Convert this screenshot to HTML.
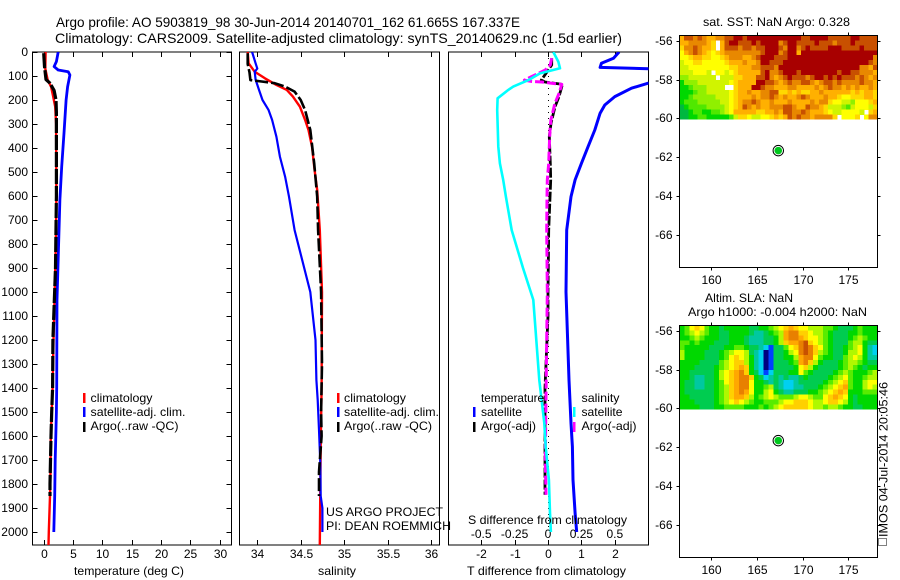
<!DOCTYPE html>
<html lang="en">
<head>
<meta charset="utf-8">
<title>Argo profile</title>
<style>
html,body{margin:0;padding:0;background:#fff;}
svg{display:block;font-family:"Liberation Sans",sans-serif;font-size:12px;fill:#000;}
text{fill:#000;}
.box{fill:none;stroke:#000;stroke-width:1;shape-rendering:crispEdges;}
.crisp{shape-rendering:crispEdges;}
</style>
</head>
<body>
<svg id="chart" xmlns="http://www.w3.org/2000/svg" width="900" height="580" viewBox="0 0 900 580">
  <rect x="0" y="0" width="900" height="580" fill="#fff"/>
  <defs>
    <clipPath id="clip-temp"><rect x="32.5" y="52" width="199" height="493"/></clipPath>
    <clipPath id="clip-sal"><rect x="239.5" y="52" width="200" height="493"/></clipPath>
    <clipPath id="clip-diff"><rect x="448.5" y="52" width="200" height="493"/></clipPath>
  </defs>
  <text x="56" y="27" font-size="14" textLength="464" lengthAdjust="spacingAndGlyphs">Argo profile: AO 5903819_98 30-Jun-2014 20140701_162 61.665S 167.337E</text>
  <text x="55" y="43" font-size="14" textLength="567" lengthAdjust="spacingAndGlyphs">Climatology: CARS2009. Satellite-adjusted climatology: synTS_20140629.nc (1.5d earlier)</text>

  <g id="panel-temp"></g>
  <g id="panel-sal"></g>
  <g id="panel-diff"></g>
  <g id="map-sst"></g>
  <g id="map-sla"></g>

  <text x="74" y="575" textLength="110" lengthAdjust="spacingAndGlyphs">temperature (deg C)</text>
  <text x="318" y="575" textLength="38" lengthAdjust="spacingAndGlyphs">salinity</text>
  <text x="467" y="575" textLength="159" lengthAdjust="spacingAndGlyphs">T difference from climatology</text>
  <text x="468" y="524" textLength="159" lengthAdjust="spacingAndGlyphs">S difference from climatology</text>

  <g>
    <rect x="83" y="393" width="2.5" height="10" fill="#ff0000"/>
    <text x="90.5" y="402" textLength="62" lengthAdjust="spacingAndGlyphs">climatology</text>
    <rect x="83" y="407" width="2.5" height="10" fill="#0000ff"/>
    <text x="90.5" y="416" textLength="95" lengthAdjust="spacingAndGlyphs">satellite-adj. clim.</text>
    <rect x="83" y="422" width="2.5" height="10" fill="#000"/>
    <text x="90.5" y="430" textLength="88" lengthAdjust="spacingAndGlyphs">Argo(..raw -QC)</text>
  </g>
  <g>
    <rect x="337" y="393" width="2.5" height="10" fill="#ff0000"/>
    <text x="344" y="402" textLength="62" lengthAdjust="spacingAndGlyphs">climatology</text>
    <rect x="337" y="407" width="2.5" height="10" fill="#0000ff"/>
    <text x="344" y="416" textLength="95" lengthAdjust="spacingAndGlyphs">satellite-adj. clim.</text>
    <rect x="337" y="422" width="2.5" height="10" fill="#000"/>
    <text x="344" y="430" textLength="88" lengthAdjust="spacingAndGlyphs">Argo(..raw -QC)</text>
  </g>
  <g>
    <text x="481" y="402" textLength="63" lengthAdjust="spacingAndGlyphs">temperature</text>
    <rect x="473" y="407" width="2.5" height="10" fill="#0000ff"/>
    <text x="481" y="416" textLength="41" lengthAdjust="spacingAndGlyphs">satellite</text>
    <rect x="473" y="422" width="2.5" height="10" fill="#000"/>
    <text x="481" y="430" textLength="55" lengthAdjust="spacingAndGlyphs">Argo(-adj)</text>
  </g>
  <g>
    <text x="581.5" y="402" textLength="38" lengthAdjust="spacingAndGlyphs">salinity</text>
    <rect x="573" y="407" width="2.5" height="10" fill="#00ffff"/>
    <text x="581.5" y="416" textLength="41" lengthAdjust="spacingAndGlyphs">satellite</text>
    <rect x="573" y="422" width="2.5" height="10" fill="#ff00ff"/>
    <text x="581.5" y="430" textLength="55" lengthAdjust="spacingAndGlyphs">Argo(-adj)</text>
  </g>

  <text x="326" y="516" textLength="117" lengthAdjust="spacingAndGlyphs">US ARGO PROJECT</text>
  <text x="326" y="530" textLength="125" lengthAdjust="spacingAndGlyphs">PI: DEAN ROEMMICH</text>

  <text x="703" y="26" textLength="147" lengthAdjust="spacingAndGlyphs">sat. SST: NaN Argo: 0.328</text>
  <text x="705" y="302" textLength="88" lengthAdjust="spacingAndGlyphs">Altim. SLA: NaN</text>
  <text x="688" y="316" textLength="179" lengthAdjust="spacingAndGlyphs">Argo h1000: -0.004 h2000: NaN</text>

  <rect x="878.5" y="538.5" width="8" height="7" fill="none" stroke="#000" stroke-width="1" stroke-dasharray="1 1" class="crisp"/>
  <text transform="translate(887.5,537) rotate(-90)" textLength="155" lengthAdjust="spacingAndGlyphs">IMOS 04-Jul-2014 20:05:46</text>
</svg>
<script>
/* ---------- depth ticks ---------- */
const depthTicks = [0,100,200,300,400,500,600,700,800,900,1000,1100,1200,1300,1400,1500,1600,1700,1800,1900,2000];

/* ---------- temperature panel ---------- */
const tempTicks = [0,5,10,15,20,25,30];
const tempClimDepth = [0,70,115,145,180,228,300,600,800,1000,1200,1400,1500,1600,1750,1850,2000,2054];
const tempClimValues = [0.35,0.3,0.7,1.3,1.6,2.0,2.15,2.2,2.1,1.9,1.7,1.55,1.4,1.25,1.2,1.1,0.9,0.85];
const tempSatDepth = [0,40,61,75,82,96,145,200,338,478,616,1033,1400,1500,1700,1850,2000];
const tempSatValues = [2.5,2.2,1.8,2.5,4.2,4.5,4.1,3.85,3.5,3.1,2.8,2.3,2.25,2.2,2.0,1.9,1.75];
const tempArgoDepth = [5,60,115,130,160,200,250,600,900,1200,1400,1500,1600,1700,1800,1850];
const tempArgoValues = [0.03,0.17,0.43,1.1,1.8,2.13,2.2,2.2,2.05,1.6,1.55,1.4,1.27,1.2,1.1,1.1];

/* ---------- salinity panel ---------- */
const salTicks = [34,34.5,35,35.5,36];
const salClimDepth = [0,47,82,110,137,158,186,228,283,325,394,492,575,742,1000,1400,1645,2054];
const salClimValues = [33.89,33.90,33.97,34.09,34.22,34.34,34.41,34.49,34.55,34.59,34.63,34.66,34.69,34.72,34.745,34.74,34.73,34.72];
const salSatDepth = [0,47,69,82,115,158,200,242,283,353,436,519,603,742,1000,1200,1367,1450,1575,1713,1850,1900,2000];
const salSatValues = [33.94,33.98,34.0,33.97,33.98,34.02,34.06,34.13,34.17,34.22,34.26,34.32,34.365,34.43,34.61,34.67,34.68,34.695,34.71,34.725,34.73,34.75,34.75];
const salArgoDepth = [5,50,85,117,123,130,144,165,200,242,325,464,603,742,1000,1300,1500,1600,1750,1850];
const salArgoValues = [33.89,33.89,33.91,33.92,34.05,34.2,34.32,34.43,34.5,34.55,34.61,34.655,34.69,34.70,34.735,34.745,34.735,34.74,34.71,34.71];

/* ---------- difference panel ---------- */
const diffTTicks = [-2,-1,0,1,2];
const diffSTicks = [-0.5,-0.25,0,0.25,0.5];
const diffSTickLabels = ["-0.5","-0.25","0","0.25","0.5"];
const diffTSatDepth = [0,26,47,64,72,85,120,130,151,186,221,255,325,394,464,533,603,742,1000,1367,1546,1645,1783,1921,2000];
const diffTSatValues = [2.13,1.96,1.6,1.56,3.6,8,8,3.0,2.5,2.0,1.7,1.56,1.4,1.2,1.0,0.81,0.69,0.56,0.54,0.63,0.69,0.73,0.75,0.81,0.86];
const diffSSatDepth = [0,40,68,89,117,144,158,193,242,394,464,533,603,742,900,1033,1367,1546,1645,1783,1921,2000];
const diffSSatValues = [0.04,0.077,0.09,-0.06,-0.147,-0.26,-0.297,-0.377,-0.38,-0.372,-0.36,-0.335,-0.315,-0.272,-0.187,-0.11,-0.065,-0.028,-0.017,0.007,0.015,0.022];
const diffTArgoDepth = [26,54,75,117,125,135,186,228,297,353,464,533,742,1000,1100,1400,1600,1845];
const diffTArgoValues = [0.11,0.11,0.01,-0.2,-0.09,0.43,0.33,0.21,0.09,0.04,0.07,0.08,0.02,0,0,-0.09,-0.09,-0.09];
const diffSArgoDepth = [26,54,75,89,117,123,125,130,135,173,214,283,325,394,464,533,603,742,1000,1435,1700,1845];
const diffSArgoValues = [0.028,0.017,-0.02,-0.072,-0.177,-0.12,-0.047,0.028,0.103,0.082,0.052,0.022,0.015,0.01,0.005,-0.005,-0.0075,-0.01,-0.005,-0.015,-0.02,-0.015];

/* ---------- maps ---------- */
const lonTicks = [160,165,170,175];
const latTicks = [-56,-58,-60,-62,-64,-66];
const argoLon = 167.337;
const argoLat = -61.665;
const sstRows = [
"7998987788"+"99aa9aaaaa"+"aa"+"aaaaa99aaa"+"a99999aa99"+"99",
"77888876.7"+"9aa999a9aa"+"aa"+"89aa9999a9"+"998999a999"+"99",
"68898776.7"+"999899899a"+"aa"+"98aa89a999"+"9aaa9999a9"+"99",
"5789876567"+"888888889a"+"aa"+"89aa7aaaaa"+"aaaaaaaaaa"+"aa",
"5567766556"+"78887789aa"+"a9"+"99aaaaaaaa"+"aaaaaaaaaa"+"a8",
"4556655555"+"67778778aa"+"99"+"9aaaaaaaaa"+"aaaaaaaaaa"+"98",
"4455555555"+"5667778899"+"98"+"aaaaaaaaaa"+"aaaaaaaa88"+"79",
"4445554.55"+"456777779a"+"88"+"9aaa9aaaaa"+"aaa9aa9988"+"87",
"33444444.4"+"446677799a"+"87"+"89a99989aa"+"9a9a999898"+"78",
"1333444444"+"4567777aa9"+"98"+"7898899878"+"9989888898"+"87",
"1123334444"+"..6777aa98"+"87"+"7788777787"+"8988787877"+"87",
"1112334444"+"4567787788"+"99"+"6676766778"+"7777776767"+"76",
"1123333344"+"4567778788"+"98"+"7877898777"+"8776556667"+"76",
"1222333334"+"4567889877"+"87"+"7787777878"+"8655443555"+"67",
"0122223333"+"4567987877"+"88"+"8998779887"+"6444324555"+"46",
"0012211223"+"4577777667"+"78"+"7998898777"+"654455554."+"67",
"0011221111"+"1246654455"+"67"+"6798988788"+"886.5556.5"+"88"
];
const slaRows = [
"5689865545"+"5555445567"+"89a9887776"+"6544456555",
"5678765544"+"5555433456"+"7abb998776"+"5444556555",
"5567655544"+"5554333445"+"7abba98876"+"5444567655",
"6656555444"+"5554333445"+"79aabc9876"+"5444677544",
"6555554445"+"5665443214"+"4689bcb986"+"5445678532",
"7555544456"+"7887432014"+"4578bcb976"+"5445778532",
"7555544456"+"8987532014"+"4557abb865"+"5446787533",
"5555444467"+"8997532014"+"4456ab9754"+"4456776544",
"5554444567"+"89a9532014"+"4445897544"+"4456765455",
"5544444578"+"9ab9542124"+"4455865444"+"4567655567",
"5543344578"+"9abb954234"+"3433454444"+"5678655677",
"5443344568"+"9abb855434"+"3223444445"+"6789655788",
"5443344567"+"9abb855674"+"3223344456"+"789a655787",
"5444444567"+"9aba855785"+"4334445567"+"89a9555666",
"5544444567"+"9aa9756787"+"6667887668"+"9a98545555",
"5554444567"+"8987655666"+"7889998778"+"9987545555",
"5555444556"+"6665556567"+"8999998776"+"7765544555"
];
const sstColors = ["#00b840","#00d800","#50e800","#90f000","#d0f400","#ffff00","#ffd800","#ffb000","#e88800","#c85000","#a80000"];
const slaColors = ["#000080","#0040ff","#00d0f0","#00c8a0","#00cc50","#00d800","#58ec00","#b0f800","#ffff00","#ffd000","#ffa800","#e88000","#c85000"];

/* ---------- axis functions ---------- */
const NS = "http://www.w3.org/2000/svg";
const yDepth = d => 52 + 0.24 * d;
const xTemp = t => 43.5 + 5.87 * t;
const xSal = s => 257.3 + 86.85 * (s - 34);
const xDiffT = t => 548 + 33.4 * t;
const xDiffS = s => 548 + 133.6 * s;
const xLon = lon => 711.3 + 9.13 * (lon - 160);
const yLatSst = lat => 41 + 19.35 * (-56 - lat);
const yLatSla = lat => 331 + 19.35 * (-56 - lat);

function mk(tag, parent, attrs) {
  const el = document.createElementNS(NS, tag);
  for (const k in attrs) el.setAttribute(k, attrs[k]);
  parent.appendChild(el);
  return el;
}
function tickLine(parent, x1, y1, x2, y2, label) {
  const el = mk("line", parent, {x1, y1, x2, y2, stroke: "#000", "stroke-width": 1, class: "crisp"});
  
  
  return el;
}
function tickText(parent, x, y, str, anchor, label) {
  const el = mk("text", parent, {x, y, "text-anchor": anchor});
  el.textContent = str;
  
  
  return el;
}
function profile(parent, depths, values, xFn, opts, label) {
  const pts = depths.map((d, i) => xFn(values[i]).toFixed(1) + "," + yDepth(d).toFixed(1)).join(" ");
  const el = mk("polyline", parent, {points: pts, fill: "none", stroke: opts.color, "stroke-width": opts.width,
    "clip-path": "url(#" + opts.clip + ")", "stroke-linejoin": "round"});
  if (opts.dash) el.setAttribute("stroke-dasharray", opts.dash);
  
  
  return el;
}
function frame(parent, x, y, w, h, label) {
  const el = mk("rect", parent, {x, y, width: w, height: h, class: "box"});
  
  
  return el;
}
function heatCell(parent, x, y, w, h, color, label) {
  const el = mk("rect", parent, {x: x.toFixed(2), y: y.toFixed(2), width: (w + 0.3).toFixed(2), height: (h + 0.3).toFixed(2), fill: color, class: "crisp"});
  
  
  return el;
}
function marker(parent, cx, cy) {
  const ring = mk("circle", parent, {cx, cy, r: 5.2, fill: "#fff", stroke: "#000", "stroke-width": 1});
  
  
  const dot = mk("circle", parent, {cx, cy, r: 3.8, fill: "#00c81e"});
  
  
}

const L = 32.5, R = 231.5, T = 52, B = 545;

/* temperature panel */
const pTemp = document.getElementById("panel-temp");
frame(pTemp, L, T, R - L, B - T, "temperature-plot-frame");
depthTicks.forEach(d => {
  const y = Math.round(yDepth(d)) + 0.5;
  tickLine(pTemp, L, y, L + 5, y, "depth-tick-left");
  tickLine(pTemp, R - 5, y, R, y, "depth-tick-right");
  tickText(pTemp, 28, y + 3.5, String(d), "end", "depth-tick-label");
});
tempTicks.forEach(t => {
  const x = Math.round(xTemp(t)) + 0.5;
  tickLine(pTemp, x, T, x, T + 5, "temperature-tick-top");
  tickLine(pTemp, x, B - 5, x, B, "temperature-tick-bottom");
  tickText(pTemp, x, 558, String(t), "middle", "temperature-tick-label");
});
profile(pTemp, tempClimDepth, tempClimValues, xTemp, {color: "#ff0000", width: 2.4, clip: "clip-temp"}, "temperature-climatology-line");
profile(pTemp, tempSatDepth, tempSatValues, xTemp, {color: "#0000ff", width: 2.8, clip: "clip-temp"}, "temperature-satellite-line");
profile(pTemp, tempArgoDepth, tempArgoValues, xTemp, {color: "#000", width: 3.2, dash: "15 2", clip: "clip-temp"}, "temperature-argo-line");

/* salinity panel */
const pSal = document.getElementById("panel-sal");
frame(pSal, 239.5, T, 200, B - T, "salinity-plot-frame");
salTicks.forEach(s => {
  const x = Math.round(xSal(s)) + 0.5;
  tickLine(pSal, x, T, x, T + 5, "salinity-tick-top");
  tickLine(pSal, x, B - 5, x, B, "salinity-tick-bottom");
  tickText(pSal, x, 558, String(s), "middle", "salinity-tick-label");
});
profile(pSal, salClimDepth, salClimValues, xSal, {color: "#ff0000", width: 2.4, clip: "clip-sal"}, "salinity-climatology-line");
profile(pSal, salSatDepth, salSatValues, xSal, {color: "#0000ff", width: 2.2, clip: "clip-sal"}, "salinity-satellite-line");
profile(pSal, salArgoDepth, salArgoValues, xSal, {color: "#000", width: 2.6, dash: "13 3", clip: "clip-sal"}, "salinity-argo-line");

/* difference panel */
const pDiff = document.getElementById("panel-diff");
frame(pDiff, 448.5, T, 200, B - T, "difference-plot-frame");
diffTTicks.forEach(t => {
  const x = Math.round(xDiffT(t)) + 0.5;
  tickLine(pDiff, x, T, x, T + 5, "t-difference-tick-top");
  tickLine(pDiff, x, B - 5, x, B, "t-difference-tick-bottom");
  tickText(pDiff, x, 558, String(t), "middle", "t-difference-tick-label");
});
diffSTicks.forEach((s, i) => {
  tickText(pDiff, xDiffS(s), 538, diffSTickLabels[i], "middle", "s-difference-tick-label");
});
const zeroLine = mk("line", pDiff, {x1: xDiffT(0) + 0.5, y1: T, x2: xDiffT(0) + 0.5, y2: yDepth(2000), stroke: "#000", "stroke-width": 1, "stroke-dasharray": "1 5", class: "crisp"});


profile(pDiff, diffTSatDepth, diffTSatValues, xDiffT, {color: "#0000ff", width: 3, clip: "clip-diff"}, "t-difference-satellite-line");
profile(pDiff, diffTArgoDepth, diffTArgoValues, xDiffT, {color: "#000", width: 2.8, dash: "10 2", clip: "clip-diff"}, "t-difference-argo-line");
profile(pDiff, diffSArgoDepth, diffSArgoValues, xDiffS, {color: "#ff00ff", width: 3, dash: "9 3", clip: "clip-diff"}, "s-difference-argo-line");
profile(pDiff, diffSSatDepth, diffSSatValues, xDiffS, {color: "#00ffff", width: 2.6, clip: "clip-diff"}, "s-difference-satellite-line");

/* maps */
function drawMap(parent, top, h, yLat, rows, colors, cellLabel, frameLabel, lonTickY) {
  const left = 679.5, w = 198;
  const gridBottom = yLat(-60) + 1;
  const rowH = (gridBottom - top) / rows.length;
  rows.forEach((row, r) => {
    const colW = w / row.length;
    for (let c = 0; c < row.length; c++) {
      const ch = row[c];
      if (ch === ".") continue;
      heatCell(parent, left + c * colW, top + r * rowH, colW, rowH, colors[parseInt(ch, 16)], cellLabel);
    }
  });
  frame(parent, left, top, w, h, frameLabel);
  lonTicks.forEach(lon => {
    const x = Math.round(xLon(lon)) + 0.5;
    tickLine(parent, x, top - 3, x, top, "lon-tick-top");
    tickLine(parent, x, top + h, x, top + h + 3, "lon-tick-bottom");
    tickText(parent, x, lonTickY, String(lon), "middle", "lon-tick-label");
  });
  latTicks.forEach(lat => {
    const y = Math.round(yLat(lat)) + 0.5;
    tickLine(parent, left - 3, y, left, y, "lat-tick-left");
    tickLine(parent, left + w, y, left + w + 3, y, "lat-tick-right");
    tickText(parent, left - 7, y + 3.5, String(lat), "end", "lat-tick-label");
  });
  marker(parent, xLon(argoLon), yLat(argoLat));
}
drawMap(document.getElementById("map-sst"), 35.5, 232, yLatSst, sstRows, sstColors, "sst-cell", "sst-map-frame", 284);
drawMap(document.getElementById("map-sla"), 325.5, 232, yLatSla, slaRows, slaColors, "sla-cell", "sla-map-frame", 574);
</script>
</body>
</html>
